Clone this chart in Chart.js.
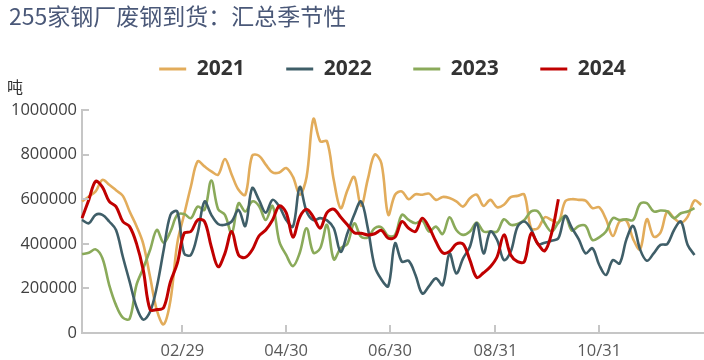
<!DOCTYPE html>
<html>
<head>
<meta charset="utf-8">
<script src="https://cdn.jsdelivr.net/npm/chart.js@4.4.0/dist/chart.umd.min.js"></script>
<style>
html,body{margin:0;padding:0;background:#fff;}
#wrap{width:704px;height:360px;position:relative;}
</style>
</head>
<body>
<div id="wrap"><canvas id="c"></canvas></div>
<script>
const TITLE = '255家钢厂废钢到货：汇总季节性';
const UNIT = '吨';

// categories: every day of the (leap) year, MM/DD
const categories = [];
for (let m = 0; m < 12; m++) {
  const days = new Date(2024, m + 1, 0).getDate();
  for (let d = 1; d <= days; d++) {
    categories.push(String(m + 1).padStart(2, '0') + '/' + String(d).padStart(2, '0'));
  }
}
const xTickLabels = ['02/29', '04/30', '06/30', '08/31', '10/31'];
const yMin = 0, yMax = 1000000, yStep = 200000;

// values, one every 4 days starting 01/01
const STEP_DAYS = 4;
const seriesNames = ['2021', '2022', '2023', '2024'];
const seriesColors = ['#E2AC5B', '#3F5E68', '#8AAA5A', '#C00000'];

const v2021 = [
  590000,612000,635000,687000,665000,640000,615000,545000,480000,400000,
  252000,102000,39000,147000,402000,530000,657000,770000,747000,725000,
  710000,780000,710000,642000,620000,795000,795000,755000,720000,720000,
  740000,700000,620000,700000,960000,860000,860000,685000,560000,640000,
  700000,570000,690000,800000,760000,530000,620000,635000,600000,622000,
  620000,625000,597000,610000,605000,590000,567000,604000,620000,570000,
  597000,564000,575000,609000,615000,620000,470000,470000,519000,507000,
  495000,590000,600000,597000,594000,560000,564000,510000,435000,500000,
  504000,420000,375000,510000,432000,450000,545000,515000,495000,522000,
  594000,575000
];
const v2022 = [
  507000,492000,530000,530000,500000,462000,342000,230000,117000,60000,
  95000,207000,372000,530000,545000,357000,350000,447000,590000,530000,
  489000,485000,500000,552000,480000,650000,597000,540000,597000,567000,
  507000,477000,655000,545000,506000,515000,505000,470000,364000,447000,
  530000,590000,470000,300000,240000,210000,402000,320000,324000,260000,
  177000,210000,245000,215000,357000,267000,335000,387000,492000,357000,
  455000,417000,327000,365000,477000,500000,465000,399000,405000,414000,
  425000,525000,470000,420000,357000,380000,305000,260000,327000,312000,
  420000,480000,375000,324000,357000,395000,399000,462000,500000,395000,
  350000,null
];
const v2023 = [
  354000,360000,375000,335000,215000,125000,69000,64000,215000,290000,
  372000,462000,405000,455000,530000,534000,515000,567000,552000,684000,
  555000,530000,447000,582000,545000,590000,570000,507000,570000,410000,
  350000,300000,360000,470000,360000,380000,485000,330000,380000,400000,
  492000,432000,429000,470000,474000,435000,440000,530000,507000,492000,
  504000,455000,477000,444000,519000,462000,440000,455000,495000,455000,
  455000,455000,510000,485000,489000,507000,545000,545000,492000,455000,
  495000,525000,459000,480000,480000,417000,429000,455000,515000,507000,
  510000,507000,579000,582000,545000,549000,545000,515000,537000,545000,
  560000,null
];
const v2024 = [
  515000,597000,680000,654000,590000,567000,500000,477000,402000,282000,
  105000,105000,114000,230000,312000,447000,455000,507000,500000,387000,
  297000,357000,455000,350000,339000,372000,435000,462000,507000,570000,
  540000,430000,520000,555000,520000,470000,540000,555000,520000,485000,
  450000,447000,440000,445000,460000,425000,430000,500000,470000,455000,
  515000,474000,410000,360000,365000,399000,399000,327000,249000,270000,
  297000,342000,440000,350000,320000,320000,447000,399000,369000,447000,
  600000
];
const seriesValues = [v2021, v2022, v2023, v2024];

const toData = arr => categories.map((_, i) =>
  (i % STEP_DAYS === 0 && i / STEP_DAYS < arr.length) ? arr[i / STEP_DAYS] : null);

const drawOrder = [3, 1, 2, 0];
const AXIS_COLOR = '#c6c6c6';
const LEGEND_H = 93;

const extras = {
  id: 'extras',
  beforeLayout(chart) {
    const lg = chart.legend;
    if (lg && !lg.__patched) {
      const f = lg.fit;
      lg.fit = function () { f.call(this); this.height = LEGEND_H; };
      lg.__patched = true;
    }
  },
  afterDraw(chart) {
    const c = chart.ctx, ca = chart.chartArea;
    const xs = chart.scales.x, ys = chart.scales.y;
    c.save();
    // inward tick marks
    c.strokeStyle = AXIS_COLOR;
    c.lineWidth = 2;
    c.beginPath();
    ys.ticks.forEach((t, i) => {
      const py = Math.round(ys.getPixelForTick(i));
      c.moveTo(ca.left, py); c.lineTo(ca.left + 7, py);
    });
    xs.ticks.forEach((t, i) => {
      const px = Math.round(xs.getPixelForTick(i));
      c.moveTo(px, ca.bottom); c.lineTo(px, ca.bottom - 8);
    });
    c.stroke();
    // title and unit
    c.textAlign = 'left';
    c.textBaseline = 'middle';
    c.fillStyle = '#4a5878';
    c.font = '23px "Noto Sans CJK SC", sans-serif';
    c.fillText(TITLE, 9, 16);
    c.fillStyle = '#333333';
    c.font = '16px "Noto Sans CJK SC", sans-serif';
    c.fillText(UNIT, 7, 87);
    c.restore();
  }
};

new Chart(document.getElementById('c'), {
  type: 'line',
  data: {
    labels: categories,
    datasets: seriesNames.map((n, k) => ({
      label: n,
      data: toData(seriesValues[k]),
      borderColor: seriesColors[k],
      backgroundColor: seriesColors[k],
      borderWidth: k === 3 ? 3 : 2.6,
      pointRadius: 0,
      pointHoverRadius: 0,
      tension: 0.35,
      spanGaps: true,
      order: drawOrder[k]
    }))
  },
  options: {
    responsive: true,
    maintainAspectRatio: false,
    animation: false,
    events: [],
    layout: { padding: { top: 17, left: 10, right: 1, bottom: 0 } },
    plugins: {
      title: { display: false },
      tooltip: { enabled: false },
      legend: {
        display: true,
        position: 'top',
        align: 'center',
        fullSize: false,
        labels: {
          boxWidth: 27,
          boxHeight: 3,
          padding: 41.5,
          color: '#333333',
          font: { family: '"Open Sans", sans-serif', size: 21, weight: 'bold' },
          sort: (a, b) => a.datasetIndex - b.datasetIndex,
          generateLabels: ch => Chart.defaults.plugins.legend.labels.generateLabels(ch)
            .map(it => Object.assign({}, it, { lineWidth: 0, fillStyle: it.strokeStyle }))
        }
      }
    },
    scales: {
      x: {
        type: 'category',
        offset: false,
        grid: { display: false, drawTicks: false },
        border: { display: true, color: AXIS_COLOR, width: 2 },
        ticks: {
          autoSkip: false, maxRotation: 0, minRotation: 0, padding: 8,
          color: '#595959',
          font: { family: '"Open Sans", sans-serif', size: 16.5 }
        },
        afterBuildTicks: ax => { ax.ticks = xTickLabels.map(l => ({ value: categories.indexOf(l) })); },
        afterFit: ax => { ax.height = 27; }
      },
      y: {
        min: yMin, max: yMax,
        grid: { display: false, drawTicks: false },
        border: { display: true, color: AXIS_COLOR, width: 2 },
        ticks: {
          stepSize: yStep, padding: 5,
          color: '#404040',
          font: { family: '"Open Sans", sans-serif', size: 16.5 },
          callback: v => String(v)
        },
        afterFit: ax => { ax.width = 72; }
      }
    }
  },
  plugins: [extras]
});
</script>
</body>
</html>
